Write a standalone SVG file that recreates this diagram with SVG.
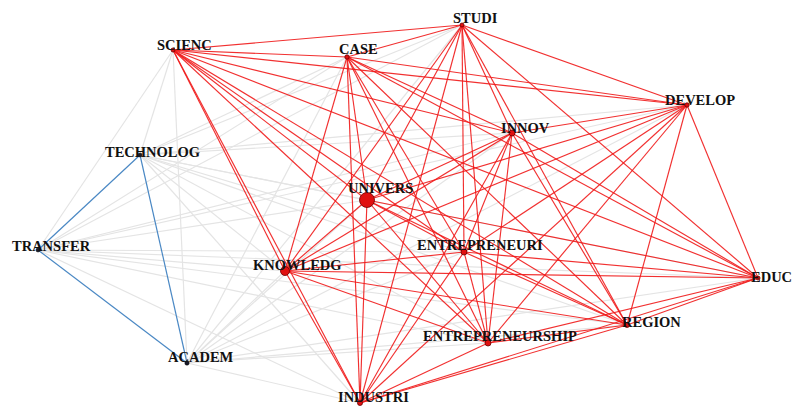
<svg xmlns="http://www.w3.org/2000/svg" width="793" height="407" viewBox="0 0 793 407">
<style>
.g{stroke:#e4e4e4;stroke-width:1.2;fill:none}
.b{stroke:#4a88c4;stroke-width:1.2;fill:none}
.r{stroke:#f01a1a;stroke-width:1.15;fill:none;stroke-opacity:0.9}
.d{fill:#e01010;stroke:#6a0000;stroke-width:0.8}
.k{fill:#1a1a2a;stroke:#000;stroke-width:0.5}
text{font-family:"Liberation Serif","Times New Roman",serif;font-weight:bold;font-size:14.5px;fill:#111}
</style>
<rect width="793" height="407" fill="#fff"/>
<g id="connectors">
<g id="grey">
<line class="g" x1="140" y1="155" x2="173" y2="50"/><line class="g" x1="140" y1="155" x2="347" y2="57"/><line class="g" x1="140" y1="155" x2="462" y2="25"/><line class="g" x1="140" y1="155" x2="512" y2="133"/><line class="g" x1="140" y1="155" x2="687" y2="105"/><line class="g" x1="140" y1="155" x2="367" y2="200"/><line class="g" x1="140" y1="155" x2="285" y2="271"/><line class="g" x1="140" y1="155" x2="464" y2="252"/><line class="g" x1="140" y1="155" x2="488" y2="343"/><line class="g" x1="140" y1="155" x2="627" y2="325"/><line class="g" x1="140" y1="155" x2="758" y2="278"/><line class="g" x1="140" y1="155" x2="360" y2="403"/>
<line class="g" x1="38" y1="250" x2="173" y2="50"/><line class="g" x1="38" y1="250" x2="347" y2="57"/><line class="g" x1="38" y1="250" x2="462" y2="25"/><line class="g" x1="38" y1="250" x2="512" y2="133"/><line class="g" x1="38" y1="250" x2="687" y2="105"/><line class="g" x1="38" y1="250" x2="367" y2="200"/><line class="g" x1="38" y1="250" x2="285" y2="271"/><line class="g" x1="38" y1="250" x2="464" y2="252"/><line class="g" x1="38" y1="250" x2="488" y2="343"/><line class="g" x1="38" y1="250" x2="627" y2="325"/><line class="g" x1="38" y1="250" x2="758" y2="278"/><line class="g" x1="38" y1="250" x2="360" y2="403"/>
<line class="g" x1="187" y1="363" x2="173" y2="50"/><line class="g" x1="187" y1="363" x2="347" y2="57"/><line class="g" x1="187" y1="363" x2="462" y2="25"/><line class="g" x1="187" y1="363" x2="512" y2="133"/><line class="g" x1="187" y1="363" x2="687" y2="105"/><line class="g" x1="187" y1="363" x2="367" y2="200"/><line class="g" x1="187" y1="363" x2="285" y2="271"/><line class="g" x1="187" y1="363" x2="464" y2="252"/><line class="g" x1="187" y1="363" x2="488" y2="343"/><line class="g" x1="187" y1="363" x2="627" y2="325"/><line class="g" x1="187" y1="363" x2="758" y2="278"/><line class="g" x1="187" y1="363" x2="360" y2="403"/>
</g>
<g id="blue">
<line class="b" x1="140" y1="155" x2="38" y2="250"/><line class="b" x1="140" y1="155" x2="187" y2="363"/><line class="b" x1="38" y1="250" x2="187" y2="363"/>
</g>
<g id="red">
<line class="r" x1="173" y1="50" x2="347" y2="57"/><line class="r" x1="173" y1="50" x2="462" y2="25"/><line class="r" x1="173" y1="50" x2="512" y2="133"/><line class="r" x1="173" y1="50" x2="687" y2="105"/><line class="r" x1="173" y1="50" x2="367" y2="200"/><line class="r" x1="173" y1="50" x2="285" y2="271"/><line class="r" x1="173" y1="50" x2="464" y2="252"/><line class="r" x1="173" y1="50" x2="488" y2="343"/><line class="r" x1="173" y1="50" x2="627" y2="325"/><line class="r" x1="173" y1="50" x2="758" y2="278"/><line class="r" x1="173" y1="50" x2="360" y2="403"/>
<line class="r" x1="347" y1="57" x2="462" y2="25"/><line class="r" x1="347" y1="57" x2="512" y2="133"/><line class="r" x1="347" y1="57" x2="687" y2="105"/><line class="r" x1="347" y1="57" x2="367" y2="200"/><line class="r" x1="347" y1="57" x2="285" y2="271"/><line class="r" x1="347" y1="57" x2="464" y2="252"/><line class="r" x1="347" y1="57" x2="488" y2="343"/><line class="r" x1="347" y1="57" x2="627" y2="325"/><line class="r" x1="347" y1="57" x2="758" y2="278"/><line class="r" x1="347" y1="57" x2="360" y2="403"/>
<line class="r" x1="462" y1="25" x2="512" y2="133"/><line class="r" x1="462" y1="25" x2="687" y2="105"/><line class="r" x1="462" y1="25" x2="367" y2="200"/><line class="r" x1="462" y1="25" x2="285" y2="271"/><line class="r" x1="462" y1="25" x2="464" y2="252"/><line class="r" x1="462" y1="25" x2="488" y2="343"/><line class="r" x1="462" y1="25" x2="627" y2="325"/><line class="r" x1="462" y1="25" x2="758" y2="278"/><line class="r" x1="462" y1="25" x2="360" y2="403"/>
<line class="r" x1="512" y1="133" x2="687" y2="105"/><line class="r" x1="512" y1="133" x2="367" y2="200"/><line class="r" x1="512" y1="133" x2="285" y2="271"/><line class="r" x1="512" y1="133" x2="464" y2="252"/><line class="r" x1="512" y1="133" x2="488" y2="343"/><line class="r" x1="512" y1="133" x2="627" y2="325"/><line class="r" x1="512" y1="133" x2="758" y2="278"/><line class="r" x1="512" y1="133" x2="360" y2="403"/>
<line class="r" x1="687" y1="105" x2="367" y2="200"/><line class="r" x1="687" y1="105" x2="285" y2="271"/><line class="r" x1="687" y1="105" x2="464" y2="252"/><line class="r" x1="687" y1="105" x2="488" y2="343"/><line class="r" x1="687" y1="105" x2="627" y2="325"/><line class="r" x1="687" y1="105" x2="758" y2="278"/><line class="r" x1="687" y1="105" x2="360" y2="403"/>
<line class="r" x1="367" y1="200" x2="285" y2="271"/><line class="r" x1="367" y1="200" x2="464" y2="252"/><line class="r" x1="367" y1="200" x2="488" y2="343"/><line class="r" x1="367" y1="200" x2="627" y2="325"/><line class="r" x1="367" y1="200" x2="758" y2="278"/><line class="r" x1="367" y1="200" x2="360" y2="403"/>
<line class="r" x1="285" y1="271" x2="464" y2="252"/><line class="r" x1="285" y1="271" x2="488" y2="343"/><line class="r" x1="285" y1="271" x2="627" y2="325"/><line class="r" x1="285" y1="271" x2="758" y2="278"/><line class="r" x1="285" y1="271" x2="360" y2="403"/>
<line class="r" x1="464" y1="252" x2="488" y2="343"/><line class="r" x1="464" y1="252" x2="627" y2="325"/><line class="r" x1="464" y1="252" x2="758" y2="278"/><line class="r" x1="464" y1="252" x2="360" y2="403"/>
<line class="r" x1="488" y1="343" x2="627" y2="325"/><line class="r" x1="488" y1="343" x2="758" y2="278"/><line class="r" x1="488" y1="343" x2="360" y2="403"/>
<line class="r" x1="627" y1="325" x2="758" y2="278"/><line class="r" x1="627" y1="325" x2="360" y2="403"/>
<line class="r" x1="758" y1="278" x2="360" y2="403"/>
</g>
</g>
<g id="n-scienc"><circle class="d" cx="173" cy="50" r="2"/><text x="157" y="50">SCIENC</text></g>
<g id="n-case"><circle class="d" cx="347" cy="57" r="2.2"/><text x="339" y="54">CASE</text></g>
<g id="n-studi"><circle class="d" cx="462" cy="25" r="2"/><text x="453" y="23">STUDI</text></g>
<g id="n-innov"><circle class="d" cx="512" cy="133" r="3"/><text x="501" y="133">INNOV</text></g>
<g id="n-develop"><circle class="d" cx="687" cy="105" r="2.2"/><text x="665" y="105">DEVELOP</text></g>
<g id="n-univers"><circle class="d" cx="367" cy="200" r="7.5"/><text x="348" y="193">UNIVERS</text></g>
<g id="n-knowledg"><circle class="d" cx="285" cy="271" r="4.5"/><text x="253" y="270">KNOWLEDG</text></g>
<g id="n-entrepreneuri"><circle class="d" cx="464" cy="252" r="3"/><text x="417" y="250">ENTREPRENEURI</text></g>
<g id="n-entrepreneurship"><circle class="d" cx="488" cy="343" r="3"/><text x="423" y="341">ENTREPRENEURSHIP</text></g>
<g id="n-region"><circle class="d" cx="627" cy="325" r="2.5"/><text x="622" y="327">REGION</text></g>
<g id="n-educ"><circle class="d" cx="758" cy="278" r="2"/><text x="751" y="282">EDUC</text></g>
<g id="n-industri"><circle class="d" cx="360" cy="403" r="2.5"/><text x="338" y="402">INDUSTRI</text></g>
<g id="n-technolog"><circle class="k" cx="140" cy="155" r="2"/><text x="105" y="157">TECHNOLOG</text></g>
<g id="n-transfer"><circle class="k" cx="38" cy="250" r="2"/><text x="12" y="251">TRANSFER</text></g>
<g id="n-academ"><circle class="k" cx="187" cy="363" r="2.2"/><text x="168" y="362">ACADEM</text></g>
</svg>
